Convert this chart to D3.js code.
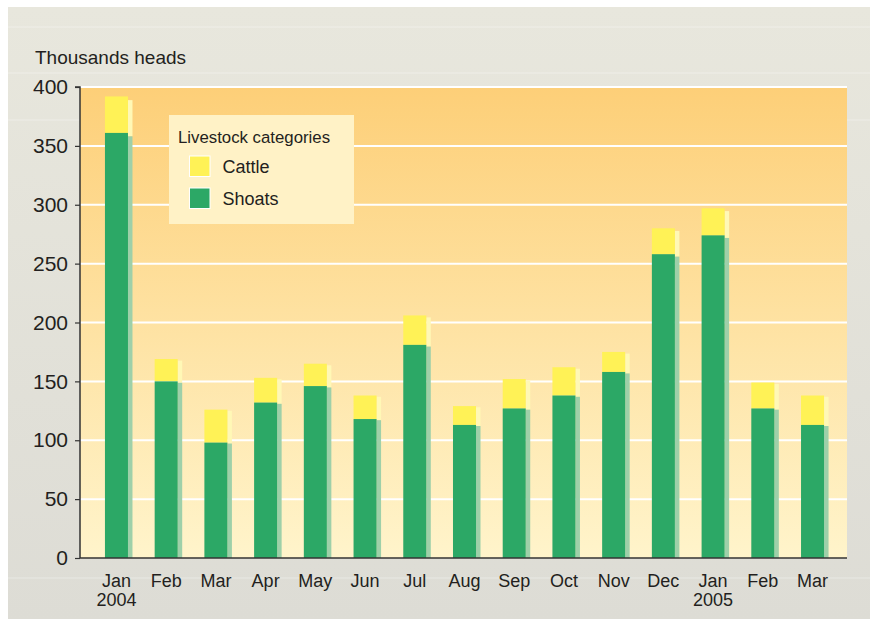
<!DOCTYPE html>
<html>
<head>
<meta charset="utf-8">
<script src="https://cdn.jsdelivr.net/npm/d3@7"></script>
<style>
  html, body { margin: 0; padding: 0; background: #ffffff; }
  svg { display: block; font-family: "Liberation Sans", Arial, sans-serif; }
</style>
</head>
<body>
<svg id="chart" width="870" height="621"></svg>
<script>
// ---- data ----
const months = ["Jan", "Feb", "Mar", "Apr", "May", "Jun", "Jul", "Aug", "Sep", "Oct", "Nov", "Dec", "Jan", "Feb", "Mar"];
const years  = ["2004", "", "", "", "", "", "", "", "", "", "", "", "2005", "", ""];
const shoats = [361, 150, 98, 132, 146, 118, 181, 113, 127, 138, 158, 258, 274, 127, 113];
const cattle = [31, 19, 28, 21, 19, 20, 25, 16, 25, 24, 17, 22, 23, 22, 25];
const yTicks = [0, 50, 100, 150, 200, 250, 300, 350, 400];
const seriesNames = ["Cattle", "Shoats"];
const seriesColors = ["#fff256", "#2ca866"];
const shadowColors = ["#fff8b6", "#9ed0a9"];

// ---- layout ----
const svg = d3.select("#chart");
const plot = { left: 80, right: 847, top: 87, bottom: 558 };

const defs = svg.append("defs");
const bgGrad = defs.append("linearGradient").attr("id", "bgGrad").attr("x1", 0).attr("y1", 0).attr("x2", 0).attr("y2", 1);
bgGrad.append("stop").attr("offset", "0%").attr("stop-color", "#e8e7dd");
bgGrad.append("stop").attr("offset", "100%").attr("stop-color", "#dddcd5");
const plGrad = defs.append("linearGradient").attr("id", "plGrad").attr("x1", 0).attr("y1", 0).attr("x2", 0).attr("y2", 1);
plGrad.append("stop").attr("offset", "0%").attr("stop-color", "#fdcf78");
plGrad.append("stop").attr("offset", "50%").attr("stop-color", "#fee2a2");
plGrad.append("stop").attr("offset", "100%").attr("stop-color", "#fff4cb");

// outer panel
svg.append("rect").attr("x", 8).attr("y", 7).attr("width", 862).attr("height", 612).attr("fill", "url(#bgGrad)");
[27, 73, 120, 578].forEach(yy => {
  svg.append("line").attr("x1", 8).attr("x2", 870).attr("y1", yy).attr("y2", yy)
    .attr("stroke", "#ffffff").attr("stroke-opacity", 0.35).attr("stroke-width", 1);
});

// plot background
svg.append("rect").attr("x", plot.left).attr("y", plot.top)
  .attr("width", plot.right - plot.left).attr("height", plot.bottom - plot.top)
  .attr("fill", "url(#plGrad)");

// scales
const idx = months.map((d, i) => i);
const x = d3.scaleBand().domain(idx).range([91.6, 837.4]).paddingInner(0.537).paddingOuter(0.2685);
const y = d3.scaleLinear().domain([0, 400]).range([plot.bottom, plot.top]);

// gridlines
svg.append("g").selectAll("line").data(yTicks.filter(t => t > 0)).join("line")
  .attr("x1", plot.left).attr("x2", plot.right)
  .attr("y1", d => y(d)).attr("y2", d => y(d))
  .attr("stroke", "#ffffff").attr("stroke-width", 2);

// bars data
const rows = idx.map(i => ({ i, shoats: shoats[i], total: shoats[i] + cattle[i] }));
const bw = x.bandwidth();
const shadowW = 4.5;
const shadowScale = 0.992;

// shadows
const gs = svg.append("g");
gs.selectAll("rect.sc").data(rows).join("rect").attr("class", "sc")
  .attr("x", d => x(d.i) + bw).attr("width", shadowW)
  .attr("y", d => y(d.total * shadowScale))
  .attr("height", d => y(d.shoats * shadowScale) - y(d.total * shadowScale))
  .attr("fill", shadowColors[0]);
gs.selectAll("rect.ss").data(rows).join("rect").attr("class", "ss")
  .attr("x", d => x(d.i) + bw).attr("width", shadowW)
  .attr("y", d => y(d.shoats * shadowScale))
  .attr("height", d => y(0) - y(d.shoats * shadowScale))
  .attr("fill", shadowColors[1]);

// main bars
const gb = svg.append("g");
gb.selectAll("rect.c").data(rows).join("rect").attr("class", "c")
  .attr("x", d => x(d.i)).attr("width", bw)
  .attr("y", d => y(d.total)).attr("height", d => y(d.shoats) - y(d.total))
  .attr("fill", seriesColors[0]);
gb.selectAll("rect.s").data(rows).join("rect").attr("class", "s")
  .attr("x", d => x(d.i)).attr("width", bw)
  .attr("y", d => y(d.shoats)).attr("height", d => y(0) - y(d.shoats))
  .attr("fill", seriesColors[1]);

// y axis
const yAxis = d3.axisLeft(y).tickValues(yTicks).tickSize(5).tickPadding(7).tickFormat(d3.format("d"));
const gy = svg.append("g").attr("transform", `translate(${plot.left},0)`).call(yAxis);
gy.select(".domain").attr("stroke", "#333333").attr("stroke-width", 1.5).attr("d", `M-5,${plot.top}H0V${plot.bottom}`);
gy.selectAll(".tick line").attr("stroke", "#333333").attr("stroke-width", 1.2);
gy.selectAll(".tick text").attr("fill", "#231f20").style("font-size", "21px")
  .style("font-family", "'Liberation Sans', Arial, sans-serif");

// x axis baseline
svg.append("line").attr("x1", plot.left).attr("x2", plot.right)
  .attr("y1", plot.bottom).attr("y2", plot.bottom)
  .attr("stroke", "#333333").attr("stroke-width", 1.5);

// x labels
const gx = svg.append("g");
gx.selectAll("text.m").data(idx).join("text").attr("class", "m")
  .attr("x", i => x(i) + bw / 2).attr("y", 587)
  .attr("text-anchor", "middle").attr("fill", "#231f20").style("font-size", "18px")
  .text(i => months[i]);
gx.selectAll("text.yr").data(idx.filter(i => years[i])).join("text").attr("class", "yr")
  .attr("x", i => x(i) + bw / 2).attr("y", 606)
  .attr("text-anchor", "middle").attr("fill", "#231f20").style("font-size", "18px")
  .text(i => years[i]);

// y title
svg.append("text").attr("x", 35).attr("y", 64).attr("fill", "#231f20")
  .style("font-size", "19px").text("Thousands heads");

// legend
const lg = svg.append("g");
lg.append("rect").attr("x", 169).attr("y", 115).attr("width", 185).attr("height", 109).attr("fill", "#fff2c6");
lg.append("text").attr("x", 178).attr("y", 143).attr("fill", "#231f20").style("font-size", "16.8px").text("Livestock categories");
seriesNames.forEach((n, k) => {
  const yy = 156 + k * 32;
  lg.append("rect").attr("x", 189.5).attr("y", yy).attr("width", 20.5).attr("height", 20.5)
    .attr("fill", seriesColors[k]).attr("stroke", "#ffffff").attr("stroke-width", 1);
  lg.append("text").attr("x", 222.5).attr("y", yy + 17).attr("fill", "#231f20").style("font-size", "18px").text(n);
});
</script>
</body>
</html>
